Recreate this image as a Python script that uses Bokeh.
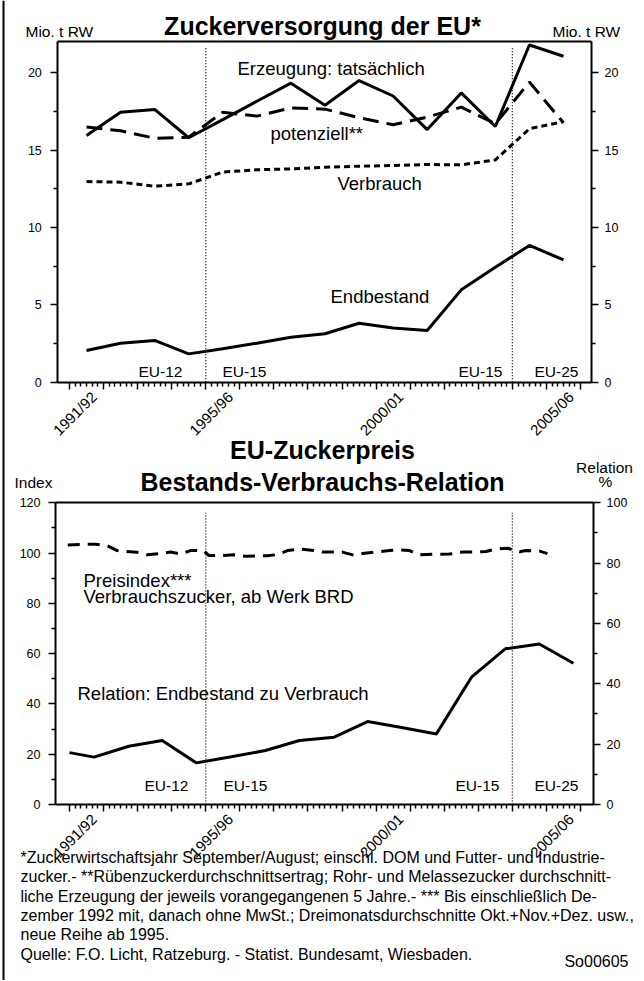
import math
from bokeh.plotting import figure
from bokeh.models import Range1d, LinearAxis, FixedTicker, Label
from bokeh.embed import file_html
from bokeh.resources import INLINE

FONT = "Liberation Sans"

# ---------------- data ----------------
seasons = ["1991/92", "1992/93", "1993/94", "1994/95", "1995/96", "1996/97", "1997/98",
           "1998/99", "1999/00", "2000/01", "2001/02", "2002/03", "2003/04", "2004/05", "2005/06"]
season_start = [1991, 1992, 1993, 1994, 1995, 1996, 1997, 1998, 1999, 2000, 2001, 2002, 2003, 2004, 2005]
labelled_seasons = ["1991/92", "1995/96", "2000/01", "2005/06"]

# Mio. t RW
erzeugung = [15.95, 17.45, 17.63, 15.8, 16.97, 18.16, 19.33, 17.9, 19.5, 18.5, 16.33, 18.7, 16.53, 21.8, 21.07]
potenziell = [16.5, 16.25, 15.77, 15.84, 17.45, 17.2, 17.73, 17.65, 17.1, 16.64, 17.13, 17.78, 16.7, 19.4, 16.77]
verbrauch = [12.97, 12.93, 12.67, 12.82, 13.58, 13.73, 13.79, 13.9, 13.96, 14.01, 14.07, 14.05, 14.37, 16.38, 16.85]
endbestand = [2.05, 2.52, 2.7, 1.83, 2.16, 2.52, 2.91, 3.13, 3.81, 3.51, 3.34, 5.97, 7.43, 8.84, 7.91]

# Relation Endbestand zu Verbrauch (%), time in years
relation_t = [1991.0, 1991.72, 1992.74, 1993.72, 1994.72, 1995.75, 1996.75, 1997.75, 1998.77,
              1999.75, 2000.75, 2001.77, 2002.8, 2003.79, 2004.79, 2005.79]
relation = [17.2, 15.7, 19.3, 21.2, 13.8, 15.8, 17.9, 21.2, 22.3, 27.5, 25.5, 23.4, 42.2, 51.6, 53.2, 46.8]

# Preisindex Verbrauchszucker (quarterly), time in years
preis_t = [1990.95, 1991.42, 1991.76, 1992.11, 1992.4, 1992.64, 1992.99, 1993.28, 1993.67, 1993.97,
           1994.26, 1994.55, 1994.94, 1995.09, 1995.43, 1995.82, 1996.17, 1996.51, 1996.8, 1997.1,
           1997.4, 1997.78, 1998.17, 1998.42, 1999.01, 1999.31, 1999.6, 1999.98, 2000.39, 2000.68,
           2000.98, 2001.27, 2001.66, 2002.15, 2002.54, 2002.93, 2003.22, 2003.51, 2003.86, 2004.21,
           2004.4, 2004.8, 2005.03]
preis = [103.2, 103.5, 103.5, 102.9, 101.0, 100.7, 100.3, 99.3, 99.8, 100.4,
         99.6, 101.0, 101.0, 99.0, 99.0, 99.3, 98.7, 98.9, 98.9, 99.4,
         101.0, 101.6, 101.0, 100.4, 100.4, 99.3, 99.8, 100.4, 101.0, 101.3,
         101.0, 99.3, 99.5, 99.6, 100.4, 100.4, 100.6, 101.6, 101.9, 100.5,
         101.0, 100.8, 99.8]

# EU enlargement breaks (start of EU-15 and EU-25 seasons)
breaks = [1995.0, 2004.0]
period_labels = ["EU-12", "EU-15", "EU-15", "EU-25"]

top_ticks = [0, 5, 10, 15, 20]
top_minor = [2.5, 7.5, 12.5, 17.5]
idx_ticks = [0, 20, 40, 60, 80, 100, 120]
idx_minor = [10, 30, 50, 70, 90, 110]
rel_ticks = [0, 20, 40, 60, 80, 100]
rel_minor = [10, 30, 50, 70, 90]

footnotes = [
    "*Zuckerwirtschaftsjahr September/August; einschl. DOM und Futter- und Industrie-",
    "zucker.- **Rübenzuckerdurchschnittsertrag; Rohr- und Melassezucker durchschnitt-",
    "liche Erzeugung der jeweils vorangegangenen 5 Jahre.- *** Bis einschließlich De-",
    "zember 1992 mit, danach ohne MwSt.; Dreimonatsdurchschnitte Okt.+Nov.+Dez. usw.,",
    "neue Reihe ab 1995.",
    "Quelle: F.O. Licht, Ratzeburg. - Statist. Bundesamt, Wiesbaden.",
]
code_label = "So00605"

# ---------------- page geometry (pixels) ----------------
W, H = 644, 980
X0_PX, X_PX_PER_YEAR, X0_T = 86.0, 34.07, 1991.5      # season 1991/92 midpoint
LABEL_SHIFT = 0.22                                     # season labels sit right of the midpoint


def t_at(px):
    return X0_T + (px - X0_PX) / X_PX_PER_YEAR


TOP = dict(left=57.3, right=591.0, zero=381.7, px_per_unit=15.47, vmax=22.0)
BOT = dict(left=55.0, right=593.0, top=502.3, zero=804.0)
IDX_MAX, REL_MAX = 120.0, 100.0
idx_ppu = (BOT["zero"] - BOT["top"]) / IDX_MAX
rel_ppu = (BOT["zero"] - BOT["top"]) / REL_MAX

x_season = [s + 0.5 for s in season_start]
label_x = [x_season[seasons.index(s)] + LABEL_SHIFT for s in labelled_seasons]
year_ticks = list(range(season_start[0], season_start[-1] + 2))
month_ticks = [y + k / 6 for y in year_ticks[:-1] for k in range(1, 6)]

p = figure(width=W, height=H, output_backend="svg", toolbar_location=None, title_location=None,
           x_axis_type=None, y_axis_type=None,
           x_range=Range1d(t_at(0), t_at(W)),
           y_range=Range1d((TOP["zero"] - H) / TOP["px_per_unit"], TOP["zero"] / TOP["px_per_unit"]),
           min_border_left=0, min_border_right=0, min_border_top=0, min_border_bottom=0)
p.xgrid.visible = False
p.ygrid.visible = False
p.outline_line_color = None
p.background_fill_color = "white"
p.border_fill_color = "white"
p.extra_x_ranges = {"px": Range1d(0, W)}
p.extra_y_ranges = {
    "py": Range1d(H, 0),
    "idx": Range1d((BOT["zero"] - H) / idx_ppu, BOT["zero"] / idx_ppu),
    "rel": Range1d((BOT["zero"] - H) / rel_ppu, BOT["zero"] / rel_ppu),
}


def styled(ax, standoff=8):
    ax.axis_line_width = 2
    ax.axis_line_color = "black"
    ax.major_tick_out = 7
    ax.major_tick_in = 0
    ax.minor_tick_out = 4
    ax.minor_tick_in = 0
    ax.major_tick_line_width = 1.5
    ax.minor_tick_line_width = 1.5
    ax.major_label_text_font = FONT
    ax.major_label_text_font_size = "12.5px"
    ax.major_label_text_color = "black"
    ax.major_label_standoff = standoff
    return ax


def chart_frame(yname, tl, tr, ymax, lticks, lminor, rname, rticks, rminor, rmax, lso, rso):
    bnd = (t_at(tl), t_at(tr))
    la = styled(LinearAxis(y_range_name=yname, fixed_location=bnd[0], bounds=(0, ymax),
                           ticker=FixedTicker(ticks=lticks, minor_ticks=lminor)), lso)
    p.add_layout(la, "left")
    ra = styled(LinearAxis(y_range_name=rname, fixed_location=bnd[1], bounds=(0, rmax),
                           ticker=FixedTicker(ticks=rticks, minor_ticks=rminor)), rso)
    p.add_layout(ra, "right")
    ta = styled(LinearAxis(y_range_name=yname, fixed_location=ymax, bounds=bnd,
                           ticker=FixedTicker(ticks=[], minor_ticks=[])))
    ta.major_label_text_color = None
    p.add_layout(ta, "above")
    xa = styled(LinearAxis(y_range_name=yname, fixed_location=0, bounds=bnd,
                           ticker=FixedTicker(ticks=year_ticks, minor_ticks=month_ticks)), 0)
    xa.major_label_text_color = None
    p.add_layout(xa, "below")
    xl = LinearAxis(y_range_name=yname, fixed_location=0,
                    ticker=FixedTicker(ticks=label_x, minor_ticks=[]),
                    major_label_overrides={x: s for x, s in zip(label_x, labelled_seasons)},
                    major_tick_out=0, major_tick_in=0, minor_tick_out=0, minor_tick_in=0,
                    axis_line_color=None, major_label_orientation=math.pi / 4,
                    major_label_text_font=FONT, major_label_text_font_size="15px",
                    major_label_text_color="black", major_label_standoff=12)
    p.add_layout(xl, "below")


chart_frame("default", TOP["left"], TOP["right"], TOP["vmax"], top_ticks, top_minor,
            "default", top_ticks, top_minor, TOP["vmax"], 9, 6)
chart_frame("idx", BOT["left"], BOT["right"], IDX_MAX, idx_ticks, idx_minor,
            "rel", rel_ticks, rel_minor, REL_MAX, 8, 6)

# page border on the left
pb = LinearAxis(y_range_name="py", fixed_location=t_at(3), ticker=FixedTicker(ticks=[], minor_ticks=[]),
                axis_line_width=2, axis_line_color="black", major_label_text_color=None,
                major_tick_out=0, minor_tick_out=0)
p.add_layout(pb, "left")

# ---------------- top chart ----------------
p.segment(x0=breaks, y0=[0, 0], x1=breaks, y1=[21.65, 21.65], line_color="black",
          line_width=1.3, line_dash="1 2")
p.line(x_season, verbrauch, line_color="black", line_width=3, line_dash="6 4")
p.line(x_season, potenziell, line_color="black", line_width=3, line_dash="16 8")
p.line(x_season, erzeugung, line_color="black", line_width=3)
p.line(x_season, endbestand, line_color="black", line_width=3)

# ---------------- bottom chart ----------------
p.segment(x0=breaks, y0=[0, 0], x1=breaks, y1=[116, 116], line_color="black",
          line_width=1.3, line_dash="1 2", y_range_name="idx")
p.line(preis_t, preis, line_color="black", line_width=3, line_dash="12 8", y_range_name="idx")
p.line(relation_t, relation, line_color="black", line_width=3, y_range_name="rel")


def lab(x, y, text, size, align="left", bold=False):
    p.add_layout(Label(x=x, y=y, x_range_name="px", y_range_name="py",
                       text=text, text_font=FONT, text_font_size=size,
                       text_font_style="bold" if bold else "normal",
                       text_align=align, text_baseline="middle", text_color="black"))


lab(322, 25, "Zuckerversorgung der EU*", "25px", align="center", bold=True)
lab(25, 31, "Mio. t RW", "15.5px")
lab(552, 31, "Mio. t RW", "15.5px")
lab(237, 67.5, "Erzeugung: tatsächlich", "18.5px")
lab(270, 132.5, "potenziell**", "18.5px")
lab(337, 182.5, "Verbrauch", "18.5px")
lab(330, 296, "Endbestand", "18.5px")
for x, t in zip([138, 222, 458, 534], period_labels):
    lab(x, 371, t, "15.5px")

lab(322, 449, "EU-Zuckerpreis", "25px", align="center", bold=True)
lab(322, 481.5, "Bestands-Verbrauchs-Relation", "25px", align="center", bold=True)
lab(14, 482, "Index", "15.5px")
lab(604, 467, "Relation", "15.5px", align="center")
lab(605, 481, "%", "15.5px", align="center")
lab(83, 579.5, "Preisindex***", "18.5px")
lab(83, 596, "Verbrauchszucker, ab Werk BRD", "18.5px")
lab(77, 692.5, "Relation: Endbestand zu Verbrauch", "18.5px")
for x, t in zip([144, 223, 455, 534], period_labels):
    lab(x, 785, t, "15.5px")

for i, line in enumerate(footnotes):
    lab(20, 857 + i * 19.3, line, "16px")
lab(628, 960.5, code_label, "16px", align="right")

open("out.html", "w").write(file_html(p, INLINE))
